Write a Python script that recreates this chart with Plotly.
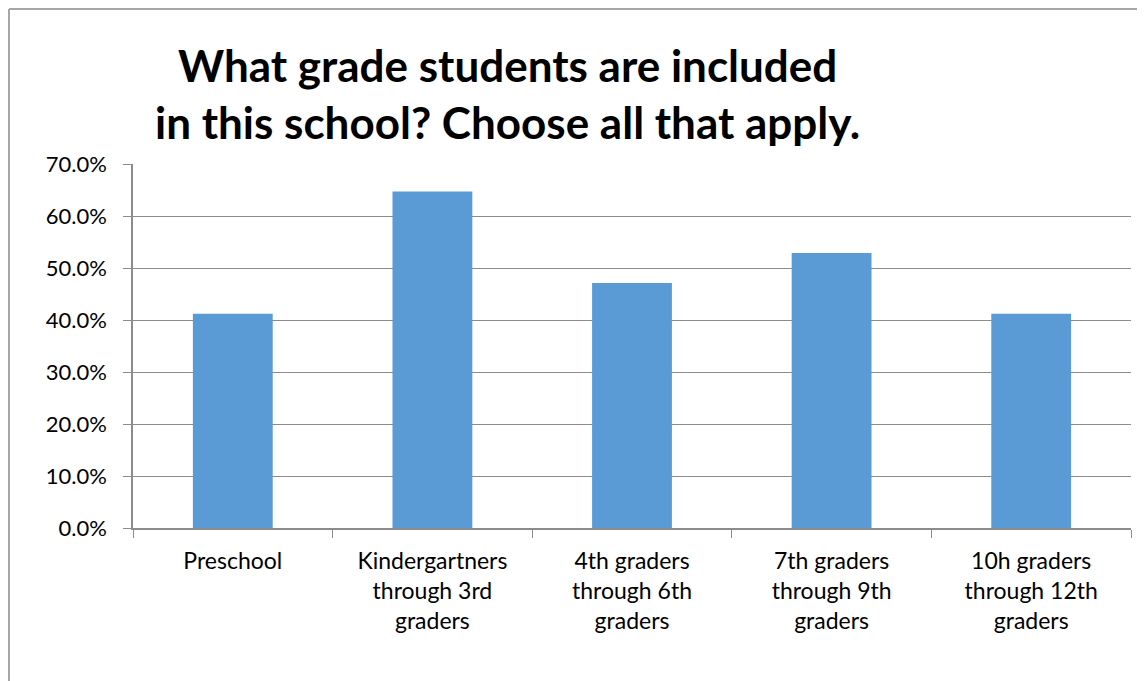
import plotly.graph_objects as go

categories = ['Preschool', 'Kindergartners<br>through 3rd<br>graders', '4th graders<br>through 6th<br>graders',
              '7th graders<br>through 9th<br>graders', '10h graders<br>through 12th<br>graders']
values = [0.412, 0.647, 0.471, 0.529, 0.412]
title_lines = ['What grade students are included', 'in this school? Choose all that apply.']

fig = go.Figure(go.Bar(x=categories, y=values, marker=dict(color='#5B9BD5', line_width=0), width=0.4))

# page body adds 8px margin, so figure is drawn 8px smaller
fig.update_layout(
    width=1137, height=673,
    margin=dict(l=125, r=14, t=156, b=153),
    paper_bgcolor='white', plot_bgcolor='white',
    font=dict(family='Lato', size=22, color='black'),
    showlegend=False,
)
fig.update_xaxes(showline=True, linecolor='#8c8c8c', linewidth=1.5, ticks='outside', tickson='boundaries',
                 ticklen=8, tickcolor='#8c8c8c', tickfont=dict(size=23), showgrid=False, ticklabelstandoff=12)
fig.update_yaxes(range=[0, 0.7], dtick=0.1, tickformat='.1%', showline=True, linecolor='#8c8c8c', linewidth=1.5,
                 ticks='outside', ticklen=8, tickcolor='#8c8c8c', showgrid=True, gridcolor='#8c8c8c',
                 gridwidth=1.2, zeroline=False, tickfont=dict(size=22), ticklabelstandoff=12)

# title block sits left of plot centre
fig.add_annotation(text='<b>' + '<br>'.join(title_lines) + '</b>', xref='paper', yref='paper',
                   x=(499 - 125) / 998, y=1, yshift=14, xanchor='center', yanchor='bottom',
                   showarrow=False, font=dict(family='Lato', size=44, color='black'))

# outer chart border (left and top only visible)
fig.add_shape(type='line', xref='paper', yref='paper', x0=-124 / 998, x1=1.2, y0=1 + 155 / 364, y1=1 + 155 / 364,
              line=dict(color='#a6a6a6', width=2))
fig.add_shape(type='line', xref='paper', yref='paper', x0=-124 / 998, x1=-124 / 998, y0=-1, y1=1 + 155 / 364,
              line=dict(color='#a6a6a6', width=2))

fig.write_html('out.html')
